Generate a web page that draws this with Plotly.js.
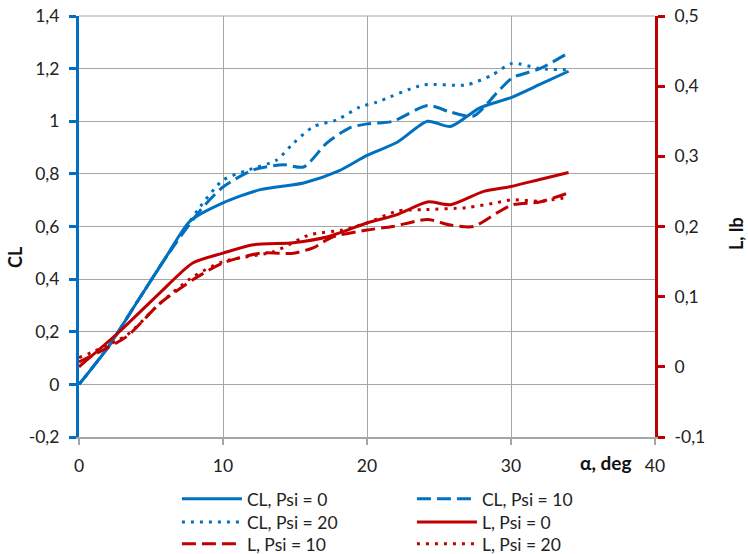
<!DOCTYPE html>
<html><head><meta charset="utf-8">
<script src="https://cdn.plot.ly/plotly-3.0.1.min.js"></script>
<style>html,body{margin:0;padding:0;background:#fff}#chart{width:748px;height:554px}</style>
</head><body><div id="chart"></div>
<script>
// ---- data ----
const cl0X = [0,2,4,6,7.7,10,12.6,15.6,18,20,22.1,24.2,25.8,27.8,30,32,34];
const cl0Y = [0,0.14,0.31,0.48,0.62,0.69,0.74,0.765,0.81,0.87,0.92,1.0,0.98,1.05,1.09,1.14,1.19];
const cl10X = [0,2,4,6,8.4,10,12.1,14.2,15.6,17.2,18.8,20,21.8,24.2,25.8,27.4,29,30.1,32,34];
const cl10Y = [0,0.14,0.31,0.48,0.66,0.75,0.815,0.835,0.826,0.917,0.975,0.99,1.0,1.06,1.035,1.02,1.107,1.165,1.2,1.26];
const cl20X = [0,2,4,6,8.4,10,11.7,13.7,14.9,16.3,17.9,19.5,20.7,23.9,26.9,28.7,30.1,32,34];
const cl20Y = [0,0.14,0.31,0.48,0.674,0.776,0.814,0.852,0.917,0.98,1.005,1.054,1.073,1.138,1.138,1.176,1.22,1.2,1.195];
const l0X = [0,2.8,5.6,7.9,10,12.1,14.9,17.2,20,22.1,24.2,25.8,28.1,30,32,34];
const l0Y = [0,0.05,0.105,0.148,0.162,0.174,0.177,0.185,0.205,0.217,0.235,0.231,0.25,0.257,0.267,0.277];
const l10X = [0,3.3,5.6,7.9,10,12.6,14.9,16.3,17.6,20,21.8,24.2,25.8,27.4,29,30.1,32,34];
const l10Y = [0.007,0.043,0.09,0.124,0.148,0.162,0.162,0.17,0.185,0.195,0.2,0.21,0.202,0.2,0.219,0.231,0.235,0.248];
const l20X = [0,3.3,5.6,7.9,10,13.5,16,18.3,20,22.1,23.9,26.9,29,30.1,32,34];
const l20Y = [0.013,0.045,0.09,0.128,0.15,0.164,0.188,0.195,0.205,0.222,0.224,0.227,0.234,0.238,0.236,0.242];
const leftTicks = [-0.2,0,0.2,0.4,0.6,0.8,1,1.2,1.4];
const leftText = ['-0,2','0','0,2','0,4','0,6','0,8','1','1,2','1,4'];
const rightTicks = [-0.1,0,0.1,0.2,0.3,0.4,0.5];
const rightText = ['-0,1','0','0,1','0,2','0,3','0,4','0,5'];
const xTicks = [0,10,20,30,40];
const xText = ['0','10','20','30','40'];

const BLUE = '#0070C0', RED = '#C00000';
const FONT = 'Lato, "Open Sans", sans-serif';
const DASH = '14px,6px', DOT = '3px,6px';
const TICKFONT = {size:17.5, color:'#222'};

function tr(name, x, y, color, dash, yaxis, legend){
  return {x:x, y:y, name:name, type:'scatter', mode:'lines', yaxis:yaxis, legend:legend,
    line:{color:color, width:3, dash:dash, shape:'spline', smoothing:0.7}};
}
const data = [
  tr('CL, Psi = 0', cl0X, cl0Y, BLUE, 'solid', 'y', 'legend'),
  tr('CL, Psi = 10', cl10X, cl10Y, BLUE, DASH, 'y', 'legend2'),
  tr('CL, Psi = 20', cl20X, cl20Y, BLUE, DOT, 'y', 'legend3'),
  tr('L, Psi = 0', l0X, l0Y, RED, 'solid', 'y2', 'legend4'),
  tr('L, Psi = 10', l10X, l10Y, RED, DASH, 'y2', 'legend5'),
  tr('L, Psi = 20', l20X, l20Y, RED, DOT, 'y2', 'legend6')
];

const legBase = {orientation:'v', yanchor:'middle', xanchor:'left',
  bgcolor:'rgba(0,0,0,0)', font:{family:FONT, size:17.5, color:'#222'}, itemwidth:60};
const c1 = 0.170, c2 = 0.578, r1 = -0.147, r2 = -0.202, r3 = -0.254;
function leg(x, y){ return Object.assign({}, legBase, {x:x, y:y}); }

const layout = {
  width:748, height:554,
  margin:{l:79, r:93, t:16, b:117, autoexpand:false},
  paper_bgcolor:'#fff', plot_bgcolor:'#fff',
  font:{family:FONT, size:16, color:'#222'},
  separators:', ',
  showlegend:true,
  legend:leg(c1, r1), legend2:leg(c2, r1),
  legend3:leg(c1, r2), legend4:leg(c2, r2),
  legend5:leg(c1, r3), legend6:leg(c2, r3),
  xaxis:{range:[0,40], tickvals:xTicks, ticktext:xText, showgrid:true, gridcolor:'#a6a6a6', gridwidth:1,
    zeroline:false, showline:true, linecolor:'#a6a6a6', linewidth:2, ticks:'outside', ticklen:6,
    tickcolor:'#a6a6a6', tickwidth:2, mirror:false, tickangle:0, ticklabelstandoff:6, tickfont:TICKFONT},
  yaxis:{range:[-0.2,1.4], tickvals:leftTicks, ticktext:leftText, showgrid:true, gridcolor:'#a6a6a6',
    zeroline:false, showline:true, linecolor:BLUE, linewidth:3, ticks:'outside', ticklen:7,
    tickcolor:BLUE, tickwidth:3, ticklabelstandoff:6, tickfont:TICKFONT},
  yaxis2:{range:[-0.1,0.5], tickvals:rightTicks, ticktext:rightText, overlaying:'y', side:'right',
    showgrid:false, zeroline:false, showline:true, linecolor:RED, linewidth:3, ticks:'outside',
    ticklen:7, tickcolor:RED, tickwidth:3, ticklabelstandoff:6, tickfont:TICKFONT},
  shapes:[{type:'line', xref:'paper', yref:'paper', x0:0, x1:1, y0:1, y1:1, line:{color:'#a6a6a6', width:1}}],
  annotations:[
    {text:'<b>α, deg</b>', xref:'paper', yref:'paper', x:(605-79)/576, y:(437-462)/421, xanchor:'center',
      yanchor:'middle', showarrow:false, font:{size:19, color:'#111'}},
    {text:'<b>CL</b>', xref:'paper', yref:'paper', x:(15-79)/576, y:(437-257)/421, xanchor:'center',
      yanchor:'middle', textangle:-90, showarrow:false, font:{size:18, color:'#111'}},
    {text:'<b>L, lb</b>', xref:'paper', yref:'paper', x:(736-79)/576, y:(437-234)/421, xanchor:'center',
      yanchor:'middle', textangle:-90, showarrow:false, font:{size:18, color:'#111'}}
  ]
};
Plotly.newPlot('chart', data, layout, {staticPlot:true, displayModeBar:false});
</script></body></html>
